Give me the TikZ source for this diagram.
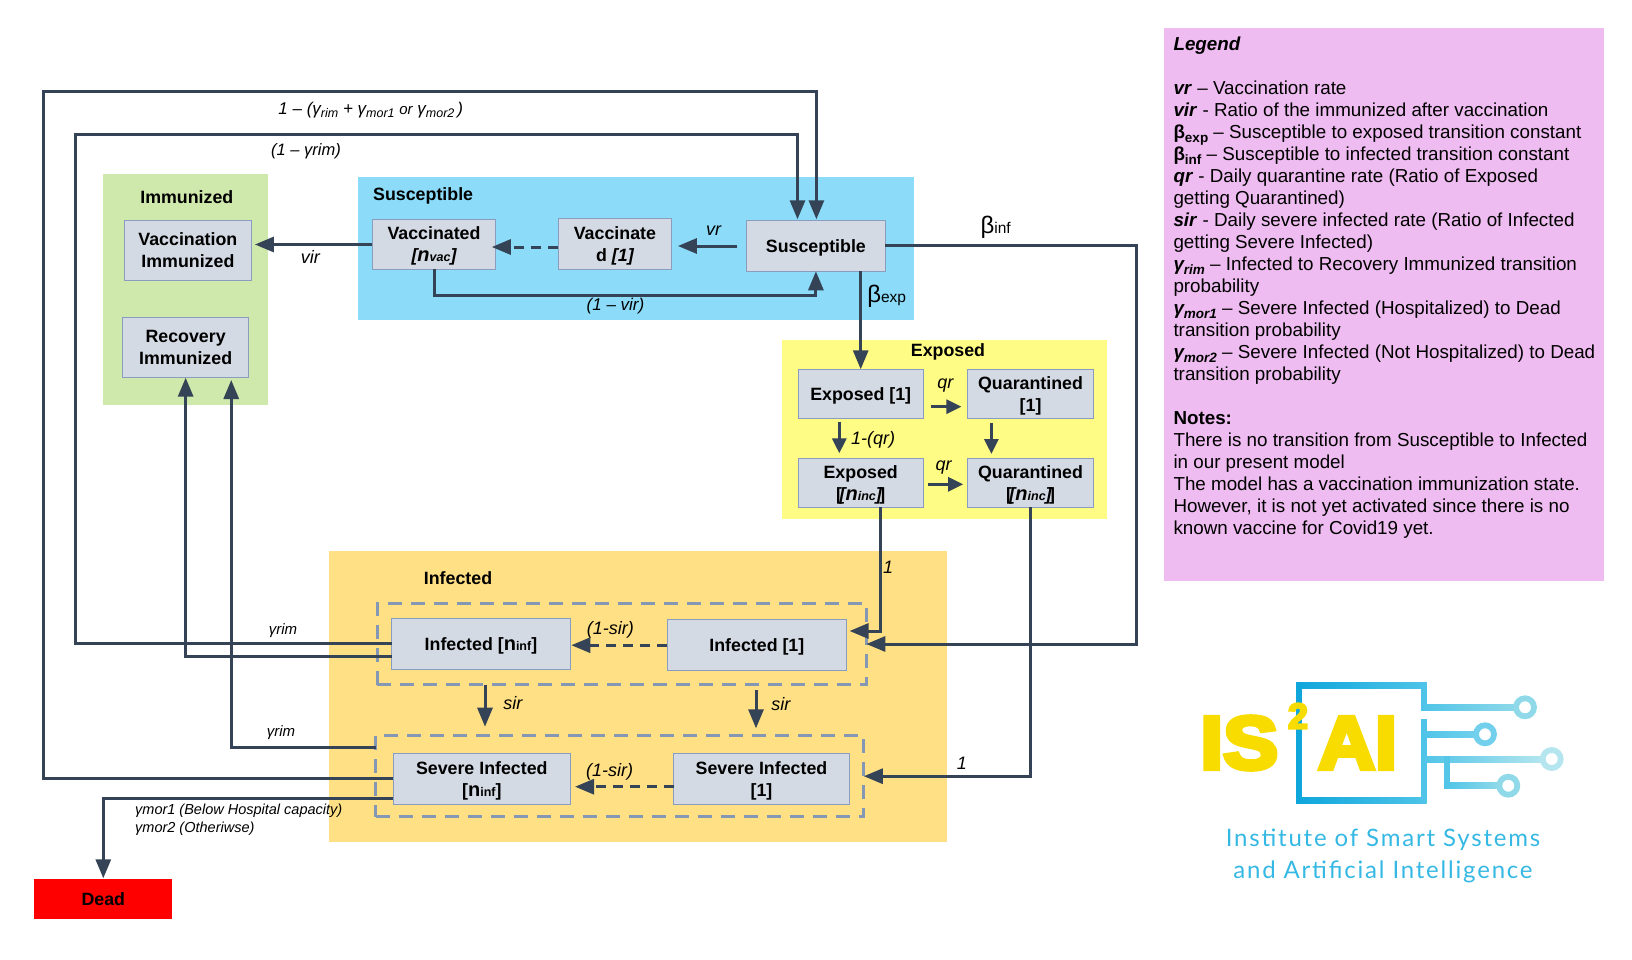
\documentclass[tikz,border=0pt]{standalone}
\usepackage{fontspec}
\setmainfont{Liberation Sans}
\newfontfamily\logofont[BoldFeatures={FakeBold=6}]{Liberation Sans}
\newfontfamily\instfont[LetterSpace=7.5]{Lato}
\usetikzlibrary{arrows.meta,calc}
\definecolor{cline}{HTML}{344355}
\definecolor{cbox}{HTML}{D4DAE4}
\definecolor{cedge}{HTML}{8A9CBF}
\definecolor{cdash}{HTML}{8497B4}
\definecolor{cgreen}{HTML}{CFE8AB}
\definecolor{cblue}{HTML}{8BDBF9}
\definecolor{cyell}{HTML}{FFFC85}
\definecolor{corng}{HTML}{FFE085}
\definecolor{cpink}{HTML}{EEBCF0}
\definecolor{logoy}{HTML}{F8DC00}
\definecolor{logoa}{HTML}{0FA6DC}
\definecolor{logob}{HTML}{4FC4E8}
\definecolor{logoc}{HTML}{8FD9E9}
\definecolor{logod}{HTML}{B5E6EF}
\newcommand{\smn}[1]{{\fontsize{12.5}{12.5}\selectfont #1}}
\newcommand{\bign}[1]{{\fontsize{20}{20}\selectfont #1}}
\newcommand{\lsub}[1]{\smash{\raisebox{-4.5pt}{\fontsize{13.5}{13.5}\selectfont #1}}}
\newcommand{\tsub}[1]{\smash{\raisebox{-3.5pt}{\fontsize{12.5}{12.5}\selectfont #1}}}
\newcommand{\incn}{[\kern-2.5pt{\itshape[\bign{n}\smn{inc}]}\kern-2.5pt]}
\tikzset{
  region/.style={inner sep=0,outer sep=0,draw=none},
  stbox/.style={draw=cedge,line width=1.3pt,fill=cbox,inner sep=0,outer sep=0,align=center,
     font=\fontsize{17.8}{22}\selectfont\bfseries,text height=14.8pt,text depth=2pt},
  stboxtwo/.style={stbox,text height=36pt,text depth=1.2pt},
  dashbox/.style={draw=cdash,line width=3pt,dash pattern=on 14pt off 9pt,fill=none,inner sep=0,outer sep=0},
  conn/.style={draw=cline,line width=3pt,-{Triangle[length=19pt,width=15pt]}},
  connb/.style={draw=cline,line width=3pt,-{Triangle[length=15pt,width=14pt]}},
  dconn/.style={conn,dash pattern=on 10pt off 7pt},
  title/.style={inner sep=0,font=\fontsize{17.8}{22}\selectfont\bfseries},
  lbl/.style={inner sep=0,font=\fontsize{18}{22}\selectfont\itshape},
}
\begin{document}
\begin{tikzpicture}[x=1pt,y=-1pt]
\useasboundingbox (0,0) rectangle (1632,960);
% regions
\node[region,fill=cgreen,minimum width=165pt,minimum height=230.7pt] (rImm) at (185.8,289.65) {};
\node[region,fill=cblue,minimum width=555.8pt,minimum height=142.7pt] (rSus) at (636.1,248.35) {};
\node[region,fill=cyell,minimum width=325.2pt,minimum height=179.3pt] (rExp) at (944.4,429.65) {};
\node[region,fill=corng,minimum width=617.7pt,minimum height=290.7pt] (rInf) at (638.15,696.35) {};
\node[region,fill=cpink,minimum width=440pt,minimum height=552.3pt] (rLeg) at (1384.3,304.5) {};
% dashed groups
\node[dashbox,minimum width=489.1pt,minimum height=81.4pt] (dinf) at (621.75,644) {};
\node[dashbox,minimum width=488.2pt,minimum height=81pt] (dsev) at (619.7,776.2) {};
% titles
\node[title] (tImm) at (186.8,196.7) {Immunized};
\node[title,anchor=west] (tSus) at (373,196) {Susceptible};
\node[title] (tExp) at (948,352) {Exposed};
\node[title] (tInf) at (458,578) {Infected};
% state boxes
\node[stboxtwo,minimum width=127pt,minimum height=59.6pt] (vi) at (187.9,250.5) {Vaccination\\Immunized};
\node[stboxtwo,minimum width=126.3pt,minimum height=60.4pt] (ri) at (185.65,347.5) {Recovery\\Immunized};
\node[stboxtwo,minimum width=123.2pt,minimum height=49.6pt] (vac) at (434,244.5) {Vaccinated\\{\itshape[\bign{n}\smn{vac}]}};
\node[stboxtwo,minimum width=113pt,minimum height=50.6pt] (vcd) at (614.9,244) {Vaccinate\\d {\itshape [1]}};
\node[stbox,minimum width=139pt,minimum height=50.6pt] (sus) at (815.9,246) {Susceptible};
\node[stbox,minimum width=125pt,minimum height=49.4pt] (e1) at (860.7,394) {Exposed [1]};
\node[stboxtwo,minimum width=126.1pt,minimum height=49.4pt] (q1) at (1030.55,394) {Quarantined\\{[1]}};
\node[stboxtwo,minimum width=125pt,minimum height=49pt] (en) at (860.7,482.8) {Exposed\\\incn};
\node[stboxtwo,minimum width=126.1pt,minimum height=49pt] (qn) at (1030.55,482.8) {Quarantined\\\incn};
\node[stbox,minimum width=178.9pt,minimum height=51pt] (ifn) at (480.95,644.2) {Infected [\bign{n}\smn{inf}]};
\node[stbox,minimum width=179.3pt,minimum height=51pt] (i1) at (756.85,645.2) {Infected [1]};
\node[stboxtwo,minimum width=177.2pt,minimum height=51pt] (sn) at (481.8,779.2) {Severe Infected\\{[\bign{n}\smn{inf}]}};
\node[stboxtwo,minimum width=176pt,minimum height=51pt] (s1) at (761.5,779.2) {Severe Infected\\{[1]}};
\node[inner sep=0,outer sep=0,fill=red,minimum width=138pt,minimum height=40pt,font=\fontsize{17.8}{22}\selectfont\bfseries] (dead) at (103.3,899) {Dead};
% bend points
\coordinate (cIn) at (75.7,134.3);
\coordinate (cOut) at (43.3,91.3);
\coordinate (cBinf) at (1136.4,644);
% connectors
\draw[conn] (vac.west) -- ([xshift=3.5pt]vac.west -| vi.east);
\draw[conn] ([xshift=-9pt]sus.west) -- ([xshift=6.5pt]sus.west -| vcd.east);
\draw[dconn] ([yshift=-3pt]vcd.west) -- ([xshift=-3.8pt,yshift=-3pt]vcd.west -| vac.east);
\draw[conn] (vac.south) -- ++(0,26) -| (sus.south);
\draw[conn] (e1.north |- sus.south) -- (e1.north);
\draw[conn] ([yshift=0.7pt]sus.east) -| (cBinf) -- (dinf.east);
\draw[conn] ([yshift=1pt]ifn.west) -| (cIn) -| ([xshift=-18.4pt,yshift=1.4pt]sus.north);
\draw[conn] ([yshift=1pt]sn.west) -| (cOut) -| ([xshift=0.5pt,yshift=1.4pt]sus.north);
\draw[conn] ([yshift=-12pt]ifn.west) -| (ri.south);
\draw[conn] ([yshift=29.2pt]dsev.west) -| ([xshift=45.6pt,yshift=-2.3pt]ri.south);
\draw[conn] ([yshift=-19pt]sn.west) -| ([yshift=0.7pt]dead.north);
\draw[conn] ([xshift=19.5pt]en.south) |- ([xshift=3pt,yshift=14.2pt]i1.east);
\draw[conn] (qn.south) |- (dsev.east);
\draw[connb] ([xshift=8.2pt,yshift=-12.7pt]e1.east) -- ([xshift=-6.1pt,yshift=-12.7pt]e1.east -| q1.west);
\draw[connb] ([xshift=-21.4pt,yshift=-3pt]e1.south) -- ([xshift=-21.4pt,yshift=5pt]en.north);
\draw[connb] ([xshift=-39.15pt,yshift=-4pt]q1.south) -- ([xshift=-39.15pt,yshift=4.3pt]qn.north);
\draw[connb] ([xshift=4.3pt,yshift=-1.5pt]en.east) -- ([xshift=-4.3pt,yshift=-1.5pt]en.east -| qn.west);
\draw[dconn] (i1.west) -- ([xshift=0.9pt]i1.west -| ifn.east);
\draw[dconn] ([yshift=-7.5pt]s1.west) -- ([xshift=4.6pt,yshift=-7.5pt]s1.west -| sn.east);
\draw[conn] ([xshift=-136.75pt]dinf.south) -- ([xshift=-134.7pt,yshift=9pt]dsev.north);
\draw[conn] ([xshift=134.25pt,yshift=-5.3pt]dinf.south) -- ([xshift=136.3pt,yshift=7.4pt]dsev.north);
% labels
\node[lbl] (lvir) at (310.4,256.7) {vir};
\node[lbl] (lvr) at (713.6,230.5) {vr};
\node[lbl,font=\fontsize{17}{20}\selectfont\itshape] (lvv) at (615.5,306) {(1 -- vir)};
\node[inner sep=0,font=\fontsize{24}{24}\selectfont] (lbi) at (995.7,227.7) {β\fontsize{15.5}{15.5}\selectfont inf};
\node[inner sep=0,font=\fontsize{24}{24}\selectfont] (lbe) at (886.7,296.7) {β\fontsize{15.5}{15.5}\selectfont exp};
\node[lbl] (lq1) at (945.4,385.3) {qr};
\node[lbl] (lq2) at (943.6,468) {qr};
\node[lbl] (lq3) at (873.2,440.3) {1-(qr)};
\node[lbl] (ls1) at (610.4,630) {(1-sir)};
\node[lbl] (ls2) at (609.6,772) {(1-sir)};
\node[lbl] (ls3) at (512.8,702.7) {sir};
\node[lbl] (ls4) at (780.9,704) {sir};
\node[lbl] (l1a) at (888.2,567.3) {1};
\node[lbl] (l1b) at (961.8,763.3) {1};
\node[lbl,font=\fontsize{15}{18}\selectfont\itshape] (lg1) at (283,631) {γrim};
\node[lbl,font=\fontsize{15}{18}\selectfont\itshape] (lg2) at (281,733) {γrim};
\node[lbl,font=\fontsize{16.5}{20}\selectfont\itshape] (ltop2) at (306,151) {(1 -- γrim)};
\node[lbl,font=\fontsize{17}{20}\selectfont\itshape] (ltop1) at (370.7,110) {1 -- (γ\tsub{rim} + γ\tsub{mor1} {\fontsize{15}{15}\selectfont or} γ\tsub{mor2}\,)};
\node[lbl,anchor=north west,align=left,font=\fontsize{14.5}{18}\selectfont\itshape] (lmor) at (135,804) {γmor1 (Below Hospital capacity)\\γmor2 (Otheriwse)};
% legend
\node[anchor=north west,inner sep=0,align=left,font=\fontsize{18.8}{22}\selectfont] (legend) at (1173.3,36.5) {%
\textbf{\textit{Legend}}\\[0pt]
\mbox{}\\
\textbf{\textit{vr}} -- Vaccination rate\\
\textbf{\textit{vir}} - Ratio of the immunized after vaccination\\
\textbf{β\lsub{exp}} -- Susceptible to exposed transition constant\\
\textbf{β\lsub{inf}} -- Susceptible to infected transition constant\\
\textbf{\textit{qr}} - Daily quarantine rate (Ratio of Exposed\\
getting Quarantined)\\
\textbf{\textit{sir}} - Daily severe infected rate (Ratio of Infected\\
getting Severe Infected)\\
\textbf{\textit{γ\lsub{rim}}} -- Infected to Recovery Immunized transition\\
probability\\
\textbf{\textit{γ\lsub{mor1}}} -- Severe Infected (Hospitalized) to Dead\\
transition probability\\
\textbf{\textit{γ\lsub{mor2}}} -- Severe Infected (Not Hospitalized) to Dead\\
transition probability\\
\mbox{}\\
\textbf{Notes:}\\
There is no transition from Susceptible to Infected\\
in our present model\\
The model has a vaccination immunization state.\\
However, it is not yet activated since there is no\\
known vaccine for Covid19 yet.};
% logo
\shade[left color=logoa,right color=logob] (1296,682.3) rectangle (1426.7,688);
\shade[left color=logoa,right color=logob] (1296,797.6) rectangle (1426.7,803.3);
\fill[logoa] (1296,682.3) rectangle (1301.7,803.3);
\fill[logob] (1421,682.3) rectangle (1426.7,710.5);
\fill[logob] (1421,719.3) rectangle (1426.7,803.3);
\shade[left color=logob,right color=logoc] (1421,704.5) rectangle (1518,710.5);
\shade[left color=logob,right color=logob!80!white] (1421,731.3) rectangle (1478,737.3);
\shade[left color=logob,right color=logod] (1421,756) rectangle (1545,762);
\fill[logob!90!logoc] (1444,756) rectangle (1450,788.5);
\shade[left color=logob,right color=logoc] (1444,782.5) rectangle (1500,788.5);
\draw[logoc,line width=5.8pt] (1525,707.3) circle (9pt);
\draw[logob!80!white,line width=5.8pt] (1485,734.3) circle (9pt);
\draw[logod,line width=5.8pt] (1551.7,759) circle (9pt);
\draw[logoc,line width=5.8pt] (1508.3,785.7) circle (9pt);
\node[inner sep=0,text=logoy,font=\fontsize{75}{75}\logofont\bfseries,anchor=west,xscale=1.1] (logoIS) at (1200,743) {IS};
\node[inner sep=0,text=logoy,font=\fontsize{75}{75}\logofont\bfseries,anchor=west,xscale=1.05] (logoAI) at (1318,743) {AI};
\node[inner sep=0,text=logoy,font=\fontsize{36}{36}\logofont\bfseries] (logo2) at (1298,716) {2};
\node[inner sep=0,text=logob!60!logoa,align=center,font=\fontsize{24}{32}\instfont] (inst) at (1383,855.5) {Institute of Smart Systems\\and Artificial Intelligence};
\end{tikzpicture}
\end{document}
